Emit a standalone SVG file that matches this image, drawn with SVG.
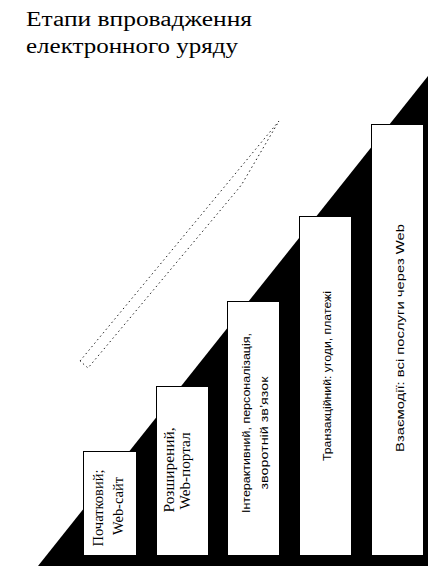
<svg xmlns="http://www.w3.org/2000/svg" width="428" height="566" viewBox="0 0 428 566">
  <style>
    .heading { font-family: "Liberation Serif", "Times New Roman", "DejaVu Serif", serif; font-size: 20px; fill: #000; }
    .step { fill: #fff; stroke: #000; stroke-width: 1; }
    .serif { font-family: "Liberation Serif", "Times New Roman", serif; font-size: 14px; fill: #000; text-anchor: middle; }
    .sans { font-family: "Liberation Sans", Arial, sans-serif; font-size: 11px; fill: #000; text-anchor: middle; }
    .trend { fill: none; stroke: #222; stroke-width: 1; stroke-dasharray: 1.5 3; }
  </style>
  <rect width="428" height="566" fill="#fff"/>

  <!-- heading -->
  <g id="heading">
    <text class="heading" x="26" y="26" textLength="226" lengthAdjust="spacingAndGlyphs">Етапи впровадження</text>
    <text class="heading" x="26" y="53" textLength="212" lengthAdjust="spacingAndGlyphs">електронного уряду</text>
  </g>

  <!-- black slope under the stairs -->
  <polygon id="slope" points="38,566 428,76 428,566" fill="#000"/>

  <!-- dotted growth arrow -->
  <g id="connectors">
    <path class="trend" d="M80,361 L279,121 L242,184 L239,188 L88,368 Z"/>
  </g>

  <g id="step1">
    <rect class="step" x="83.5" y="451.5" width="53" height="104"/>
    <text class="serif" transform="translate(103,508) rotate(-90)" textLength="77" lengthAdjust="spacingAndGlyphs">Початковий;</text>
    <text class="serif" transform="translate(123,506) rotate(-90)" textLength="58" lengthAdjust="spacingAndGlyphs">Web-сайт</text>
  </g>

  <g id="step2">
    <rect class="step" x="156.5" y="386.5" width="52" height="169"/>
    <text class="serif" transform="translate(174,470) rotate(-90)" textLength="85" lengthAdjust="spacingAndGlyphs">Розширений,</text>
    <text class="serif" transform="translate(190,471) rotate(-90)" textLength="77" lengthAdjust="spacingAndGlyphs">Web-портал</text>
  </g>

  <g id="step3">
    <rect class="step" x="227.5" y="301.5" width="52" height="254"/>
    <text class="sans" transform="translate(250,423) rotate(-90)" textLength="180" lengthAdjust="spacingAndGlyphs">Інтерактивний, персоналізація,</text>
    <text class="sans" transform="translate(268,433) rotate(-90)" textLength="113" lengthAdjust="spacingAndGlyphs">зворотній зв’язок</text>
  </g>

  <g id="step4">
    <rect class="step" x="299.5" y="216.5" width="52" height="339"/>
    <text class="sans" transform="translate(331,376) rotate(-90)" textLength="170" lengthAdjust="spacingAndGlyphs">Транзакційний: угоди, платежі</text>
  </g>

  <g id="step5">
    <rect class="step" x="371.5" y="124.5" width="52" height="431"/>
    <text class="sans" transform="translate(404,338) rotate(-90)" textLength="228" lengthAdjust="spacingAndGlyphs">Взаємодії: всі послуги через Web</text>
  </g>
</svg>
